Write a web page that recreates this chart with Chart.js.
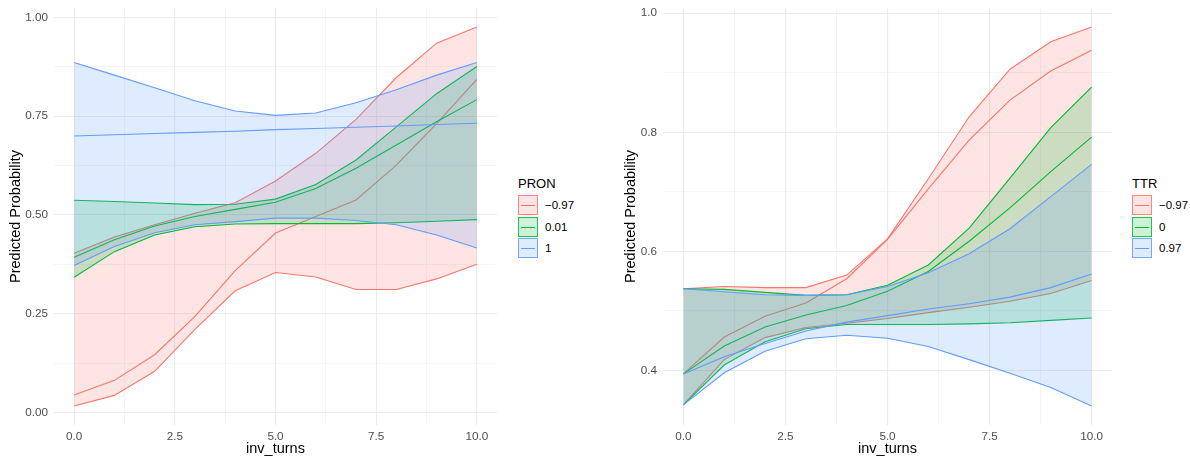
<!DOCTYPE html>
<html>
<head>
<meta charset="utf-8">
<script src="https://cdn.jsdelivr.net/npm/chart.js@4.4.0/dist/chart.umd.min.js"></script>
<style>
  body { margin: 0; background: #fff; width: 1190px; height: 457px; overflow: hidden; position: relative;
         font-family: 'Liberation Sans', Arial, sans-serif; }
  canvas { position: absolute; top: 0; }
  .legend-title { position: absolute; font-size: 13px; line-height: 15px; color: #000; }
  .legend-key { position: absolute; width: 20px; height: 20px; box-sizing: border-box; border: 1px solid; }
  .legend-key i { position: absolute; left: 2px; right: 2px; top: 9px; height: 1px; }
  .legend-label { position: absolute; font-size: 11.5px; line-height: 20px; color: #000; }
</style>
</head>
<body>
<canvas id="pron-chart" width="510" height="457" style="left:0px"></canvas>
<canvas id="ttr-chart" width="510" height="457" style="left:615px"></canvas>
<div id="legends"></div>
<script>
// x values and axis ticks (shared by both panels)
const xValues = [0, 1, 2, 3, 4, 5, 6, 7, 8, 9, 10];
const xTicks = [0, 2.5, 5, 7.5, 10];
const xTickLabels = ['0.0', '2.5', '5.0', '7.5', '10.0'];

// left panel: PRON
const pronLevels = ['\u22120.97', '0.01', '1'];
const pronLowNeg  = [0.016, 0.043, 0.104, 0.210, 0.308, 0.354, 0.343, 0.311, 0.311, 0.338, 0.375];
const pronFitNeg  = [0.044, 0.081, 0.146, 0.243, 0.359, 0.454, 0.496, 0.538, 0.626, 0.731, 0.843];
const pronHighNeg = [0.403, 0.444, 0.475, 0.504, 0.531, 0.586, 0.656, 0.742, 0.848, 0.935, 0.976];
const pronLowMid  = [0.342, 0.407, 0.449, 0.470, 0.477, 0.478, 0.478, 0.478, 0.480, 0.484, 0.488];
const pronFitMid  = [0.393, 0.437, 0.472, 0.496, 0.514, 0.532, 0.567, 0.618, 0.677, 0.736, 0.792];
const pronHighMid = [0.537, 0.534, 0.530, 0.526, 0.527, 0.540, 0.577, 0.639, 0.723, 0.807, 0.876];
const pronLowPos  = [0.372, 0.420, 0.455, 0.475, 0.483, 0.492, 0.492, 0.486, 0.475, 0.449, 0.416];
const pronFitPos  = [0.700, 0.703, 0.706, 0.709, 0.712, 0.716, 0.719, 0.722, 0.725, 0.729, 0.732];
const pronHighPos = [0.886, 0.854, 0.822, 0.789, 0.763, 0.752, 0.758, 0.784, 0.817, 0.854, 0.886];
const pronYTicks = [0, 0.25, 0.5, 0.75, 1];
const pronYTickLabels = ['0.00', '0.25', '0.50', '0.75', '1.00'];

// right panel: TTR
const ttrLevels = ['\u22120.97', '0', '0.97'];
const ttrLowNeg  = [0.342, 0.418, 0.455, 0.472, 0.479, 0.487, 0.497, 0.506, 0.516, 0.529, 0.551];
const ttrFitNeg  = [0.394, 0.456, 0.491, 0.513, 0.554, 0.620, 0.705, 0.787, 0.854, 0.903, 0.938];
const ttrHighNeg = [0.537, 0.541, 0.539, 0.539, 0.560, 0.621, 0.722, 0.826, 0.906, 0.952, 0.977];
const ttrLowMid  = [0.342, 0.409, 0.448, 0.470, 0.477, 0.477, 0.477, 0.478, 0.480, 0.484, 0.488];
const ttrFitMid  = [0.394, 0.441, 0.473, 0.493, 0.509, 0.533, 0.566, 0.617, 0.673, 0.734, 0.792];
const ttrHighMid = [0.537, 0.536, 0.531, 0.526, 0.527, 0.543, 0.577, 0.639, 0.723, 0.808, 0.876];
const ttrLowPos  = [0.342, 0.396, 0.432, 0.453, 0.459, 0.454, 0.440, 0.418, 0.395, 0.371, 0.340];
const ttrFitPos  = [0.394, 0.423, 0.445, 0.466, 0.481, 0.492, 0.503, 0.512, 0.523, 0.539, 0.562];
const ttrHighPos = [0.537, 0.532, 0.527, 0.526, 0.527, 0.541, 0.564, 0.596, 0.638, 0.692, 0.746];
const ttrYTicks = [0.4, 0.6, 0.8, 1.0];
const ttrYTickLabels = ['0.4', '0.6', '0.8', '1.0'];

const groupColors = ['#F8766D', '#00BA38', '#619CFF'];

Chart.defaults.font.family = "'Liberation Sans', Arial, sans-serif";

function rgba(hex, a) {
    const n = parseInt(hex.slice(1), 16);
    return `rgba(${(n >> 16) & 255}, ${(n >> 8) & 255}, ${n & 255}, ${a})`;
}

// minor grid lines sit half way between major ones (ggplot style)
function withMinors(ticks) {
    const all = [];
    ticks.forEach((t, i) => {
        all.push(t);
        if (i < ticks.length - 1) all.push((t + ticks[i + 1]) / 2);
    });
    return all;
}

function expand(values) {
    const lo = Math.min(...values), hi = Math.max(...values);
    const pad = (hi - lo) * 0.05;
    return [lo - pad, hi + pad];
}

function points(ys) {
    return xValues.map((x, i) => ({ x: x, y: ys[i] }));
}

function makeAxis(ticks, labels, range, extra) {
    const grid = withMinors(ticks);
    return Object.assign({
        type: 'linear',
        min: range[0],
        max: range[1],
        bounds: 'data',
        afterBuildTicks: axis => { axis.ticks = grid.map(v => ({ value: v })) },
        ticks: {
            autoSkip: false,
            maxRotation: 0,
            color: '#4D4D4D',
            font: { size: 11.7 },
            callback: v => {
                const i = ticks.indexOf(v);
                return i >= 0 ? labels[i] : '';
            }
        },
        grid: {
            color: '#EBEBEB',
            drawTicks: false,
            lineWidth: ctx => (ctx.tick && ticks.includes(ctx.tick.value)) ? 1.1 : 0.55
        },
        border: { display: false }
    }, extra);
}

function buildPanel(canvasId, groups, yTicks, yTickLabels, yAxisWidth) {
    const datasets = [];
    let allY = [];
    groups.forEach((g, gi) => {
        const color = groupColors[gi];
        const base = (groups.length - 1 - gi) * 3;
        allY = allY.concat(g.low, g.high, g.fit);
        datasets.push({
            data: points(g.low), borderColor: color, backgroundColor: rgba(color, 0.2),
            fill: '+1', order: base + 2
        });
        datasets.push({ data: points(g.high), borderColor: color, fill: false, order: base + 1 });
        datasets.push({ data: points(g.fit), borderColor: color, fill: false, order: base });
    });

    const xAxis = makeAxis(xTicks, xTickLabels, expand(xValues), {
        afterFit: axis => {
            axis.height = 32;
            axis.paddingLeft = 0;
            axis.paddingRight = 0;
        },
        title: { display: true, text: 'inv_turns', color: '#000', font: { size: 14.5 }, padding: { top: 0, bottom: -1 } }
    });
    xAxis.ticks.padding = 5;

    const yAxis = makeAxis(yTicks, yTickLabels, expand(allY), {
        afterFit: axis => {
            axis.width = yAxisWidth;
            axis.paddingTop = 0;
            axis.paddingBottom = 0;
        },
        title: { display: true, text: 'Predicted Probability', color: '#000', font: { size: 14.5 }, padding: { top: 7, bottom: 0 } }
    });
    yAxis.ticks.padding = 6;

    return new Chart(document.getElementById(canvasId), {
        type: 'line',
        data: { datasets: datasets },
        options: {
            responsive: false,
            animation: false,
            layout: { padding: { top: 8, right: 13, left: 0, bottom: 0 } },
            plugins: { legend: { display: false }, tooltip: { enabled: false } },
            elements: { point: { radius: 0 }, line: { tension: 0, borderWidth: 1.1 } },
            scales: { x: xAxis, y: yAxis }
        }
    });
}

function buildLegend(title, levels, left) {
    const box = document.getElementById('legends');
    let html = `<div class="legend-title" style="left:${left}px;top:176px">${title}</div>`;
    levels.forEach((lvl, i) => {
        const c = groupColors[i];
        const top = 195 + i * 21.5;
        html += `<div class="legend-key" style="left:${left}px;top:${top}px;border-color:${rgba(c, 0.85)};background:${rgba(c, 0.2)}"><i style="background:${c}"></i></div>`;
        html += `<div class="legend-label" style="left:${left + 27}px;top:${top}px">${lvl}</div>`;
    });
    box.innerHTML += html;
}

buildPanel('pron-chart', [
    { low: pronLowNeg, fit: pronFitNeg, high: pronHighNeg },
    { low: pronLowMid, fit: pronFitMid, high: pronHighMid },
    { low: pronLowPos, fit: pronFitPos, high: pronHighPos }
], pronYTicks, pronYTickLabels, 54);

buildPanel('ttr-chart', [
    { low: ttrLowNeg, fit: ttrFitNeg, high: ttrHighNeg },
    { low: ttrLowMid, fit: ttrFitMid, high: ttrHighMid },
    { low: ttrLowPos, fit: ttrFitPos, high: ttrHighPos }
], ttrYTicks, ttrYTickLabels, 48);

buildLegend('PRON', pronLevels, 518);
buildLegend('TTR', ttrLevels, 1132);
</script>
</body>
</html>
